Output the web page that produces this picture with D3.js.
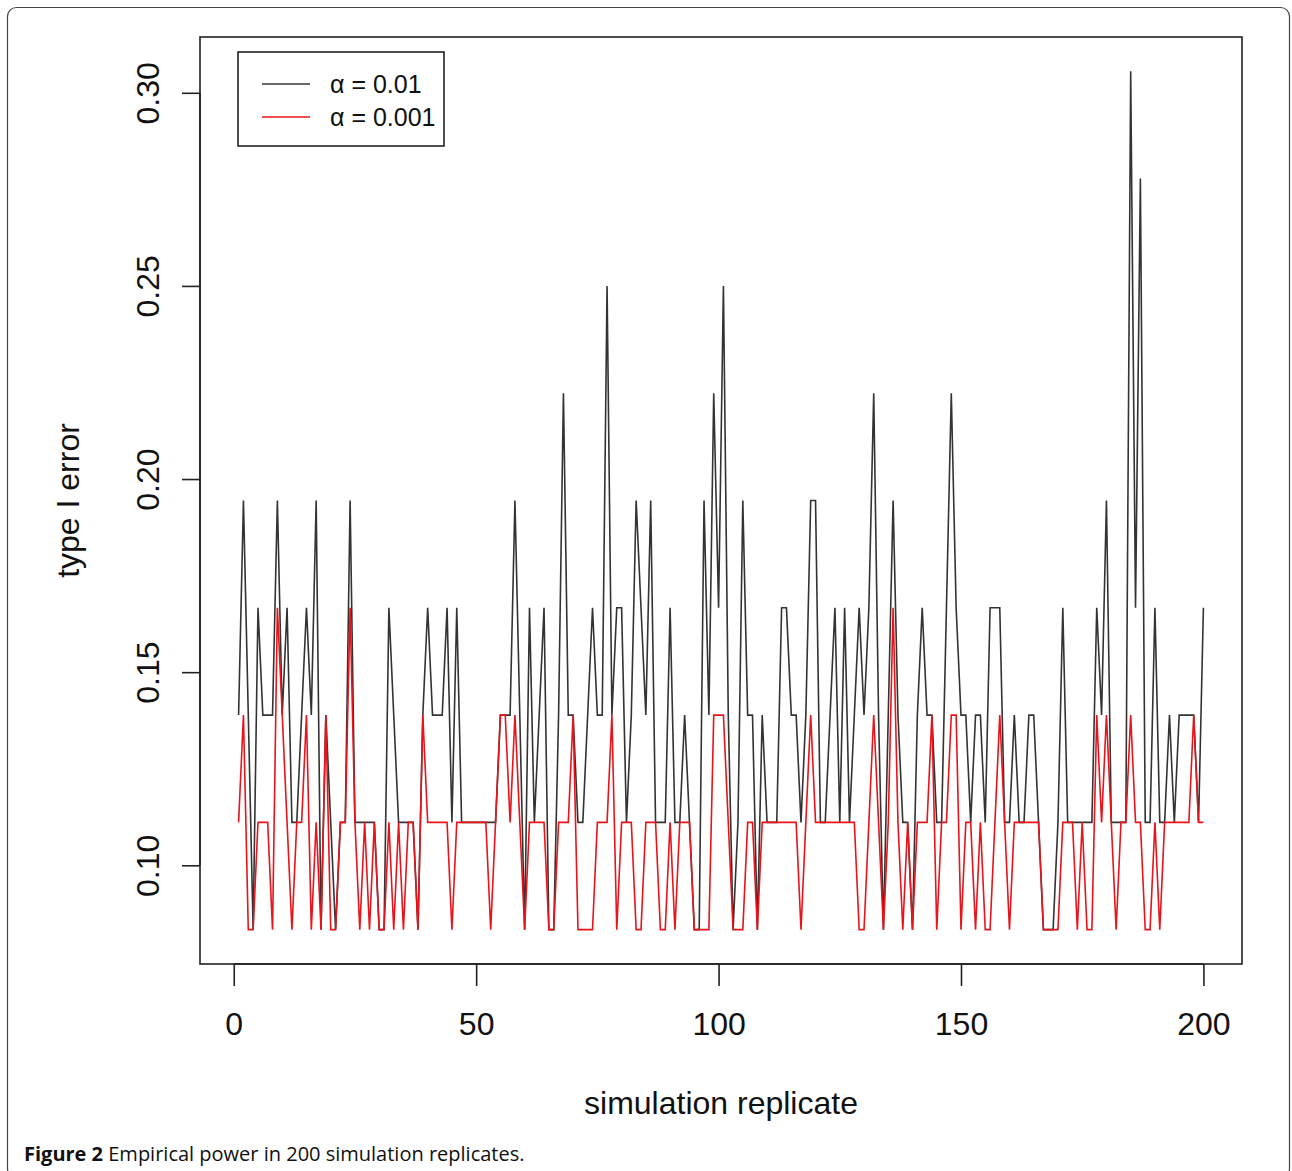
<!DOCTYPE html>
<html>
<head>
<meta charset="utf-8"/>
<title>Type I error per simulation replicate</title>
<script src="https://cdn.jsdelivr.net/npm/d3@7"></script>
<style>
  body { margin: 0; background: #fff; }
  svg text { font-family: "Liberation Sans", Arial, sans-serif; }
  .caption { font-family: "Open Sans", "DejaVu Sans", sans-serif; }
</style>
</head>
<body>
<svg id="chart" width="1292" height="1171"></svg>
<script>
// values are counts out of 36 (type I error = k/36), replicates 1..200
var alpha01 = [
  5,7,5,3,6,5,5,5,7,5, 6,4,4,5,6,5,7,3,5,4,
  3,4,4,7,4,4,4,4,4,3, 3,6,5,4,4,4,4,3,5,6,
  5,5,5,6,4,6,4,4,4,4, 4,4,4,4,5,5,5,7,5,3,
  6,4,5,6,3,3,5,8,5,5, 4,4,5,6,5,5,9,5,6,6,
  4,5,7,6,5,7,4,4,4,6, 4,4,5,4,3,3,7,5,8,6,
  9,5,3,4,7,5,5,3,5,4, 4,4,6,6,5,5,4,5,7,7,
  4,4,5,6,4,6,4,5,6,5, 6,8,5,3,5,7,5,4,4,3,
  5,6,5,5,4,4,6,8,6,5, 5,4,5,5,4,6,6,6,4,4,
  5,4,4,5,5,4,3,3,3,4, 6,4,4,4,4,4,4,6,5,7,
  4,4,4,4,11,6,10,4,4,6, 4,4,5,4,5,5,5,5,4,6
];
var alpha001 = [
  4,5,3,3,4,4,4,3,6,5, 4,3,4,4,5,3,4,3,5,3,
  3,4,4,6,4,3,4,3,4,3, 3,4,3,4,3,4,4,3,5,4,
  4,4,4,4,3,4,4,4,4,4, 4,4,3,4,5,5,4,5,4,3,
  4,4,4,4,3,3,4,4,4,5, 3,3,3,3,4,4,4,5,3,4,
  4,4,3,3,4,4,4,3,3,4, 3,4,4,4,3,3,3,3,5,5,
  5,4,3,3,3,4,4,3,4,4, 4,4,4,4,4,4,3,4,5,4,
  4,4,4,4,4,4,4,4,3,3, 4,5,4,3,4,6,4,3,4,3,
  4,4,4,5,3,4,4,5,5,3, 4,4,3,4,3,3,4,5,4,3,
  4,4,4,4,4,4,3,3,3,3, 4,4,4,3,4,3,3,5,4,5,
  4,3,4,4,5,4,4,3,3,4, 3,4,4,4,4,4,4,5,4,4
];
var nTests = 36;
var xTicks = [0, 50, 100, 150, 200];
var yTicks = [0.10, 0.15, 0.20, 0.25, 0.30];
var legendLabels = ["\u03b1 = 0.01", "\u03b1 = 0.001"];
var seriesColors = ["#333333", "#e8141c"];

(function() {
  var svg = d3.select("#chart");

  // outer figure border
  svg.append("rect")
    .attr("x", 7.5).attr("y", 7.5).attr("width", 1282).attr("height", 1170)
    .attr("rx", 9).attr("fill", "none").attr("stroke", "#444").attr("stroke-width", 1.2);

  var series = [alpha01, alpha001].map(function(arr) {
    return arr.map(function(k, i) { return { x: i + 1, y: k / nTests }; });
  });

  // R style 4% padding on the data range
  var xr = [1, 200];
  var yr = d3.extent(alpha01.concat(alpha001)).map(function(k) { return k / nTests; });
  var xp = (xr[1] - xr[0]) * 0.04, yp = (yr[1] - yr[0]) * 0.04;

  var pl = 200, pr = 1242, pt = 37, pb = 964;
  var x = d3.scaleLinear().domain([xr[0] - xp, xr[1] + xp]).range([pl, pr]);
  var y = d3.scaleLinear().domain([yr[0] - yp, yr[1] + yp]).range([pb, pt]);

  var line = d3.line().x(function(d) { return x(d.x); }).y(function(d) { return y(d.y); });

  svg.selectAll("path.series")
    .data(series)
    .enter().append("path")
    .attr("class", "series")
    .attr("d", line)
    .attr("fill", "none")
    .attr("stroke", function(d, i) { return seriesColors[i]; })
    .attr("stroke-width", 1.6)
    .attr("stroke-linejoin", "miter");

  // plot frame
  svg.append("rect")
    .attr("x", pl).attr("y", pt).attr("width", pr - pl).attr("height", pb - pt)
    .attr("fill", "none").attr("stroke", "#222").attr("stroke-width", 1.6);

  // x axis
  var xAxis = d3.axisBottom(x).tickValues(xTicks).tickSize(22).tickPadding(26).tickFormat(d3.format("d"));
  var gx = svg.append("g").attr("transform", "translate(0," + pb + ")").call(xAxis);
  gx.select(".domain").attr("d", "M" + x(0) + ",0H" + x(200)).attr("stroke", "#222").attr("stroke-width", 1.6);
  gx.selectAll(".tick line").attr("stroke", "#222").attr("stroke-width", 1.6);
  gx.selectAll(".tick text").attr("font-size", 32).attr("fill", "#111")
    .attr("font-family", "Liberation Sans, Arial, sans-serif");

  // y axis, labels rotated like R's default las=0
  var yAxis = d3.axisLeft(y).tickValues(yTicks).tickSize(18).tickFormat(d3.format(".2f"));
  var gy = svg.append("g").attr("transform", "translate(" + pl + ",0)").call(yAxis);
  gy.select(".domain").attr("d", "M0," + y(0.10) + "V" + y(0.30)).attr("stroke", "#222").attr("stroke-width", 1.6);
  gy.selectAll(".tick line").attr("stroke", "#222").attr("stroke-width", 1.6);
  gy.selectAll(".tick text")
    .attr("font-size", 32).attr("fill", "#111")
    .attr("font-family", "Liberation Sans, Arial, sans-serif")
    .attr("x", 0).attr("y", 0)
    .attr("text-anchor", "middle")
    .attr("dy", "0.35em")
    .attr("transform", "translate(-52,0) rotate(-90)");

  // axis titles
  svg.append("text")
    .attr("x", (pl + pr) / 2).attr("y", 1114)
    .attr("text-anchor", "middle").attr("font-size", 32).attr("fill", "#111")
    .text("simulation replicate");
  svg.append("text")
    .attr("transform", "translate(79," + (pt + pb) / 2 + ") rotate(-90)")
    .attr("text-anchor", "middle").attr("font-size", 32).attr("fill", "#111")
    .text("type I error");

  // legend
  var lg = svg.append("g").attr("transform", "translate(238,52)");
  lg.append("rect").attr("width", 206).attr("height", 94)
    .attr("fill", "#fff").attr("stroke", "#222").attr("stroke-width", 1.6);
  legendLabels.forEach(function(lbl, i) {
    var yy = 32 + i * 33;
    lg.append("line").attr("x1", 24).attr("x2", 72).attr("y1", yy).attr("y2", yy)
      .attr("stroke", seriesColors[i]).attr("stroke-width", 1.6);
    lg.append("text").attr("x", 92).attr("y", yy).attr("dy", "0.35em")
      .attr("font-size", 25).attr("fill", "#111").text(lbl);
  });

  // caption
  var cap = svg.append("text").attr("class", "caption")
    .attr("x", 24).attr("y", 1161).attr("font-size", 20).attr("fill", "#111");
  cap.append("tspan").attr("font-weight", "bold").text("Figure 2");
  cap.append("tspan").text(" Empirical power in 200 simulation replicates.");
})();
</script>
</body>
</html>
